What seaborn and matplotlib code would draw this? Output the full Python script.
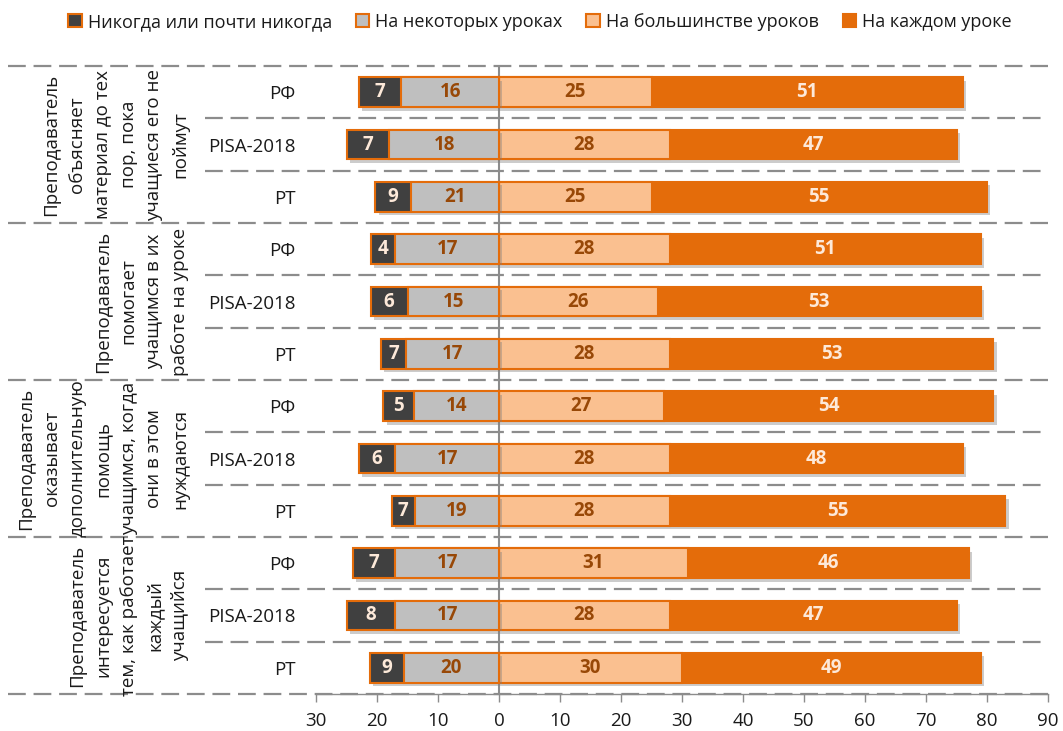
import matplotlib
matplotlib.use('Agg')
import matplotlib.pyplot as plt
import matplotlib.patheffects as pe
from matplotlib.patches import Patch
from matplotlib.ticker import FuncFormatter
import pandas as pd
import seaborn as sns

# data
rows = ['РФ', 'PISA-2018', 'РТ'] * 4
groups = [
    'Преподаватель\nобъясняет\nматериал до тех\nпор, пока\nучащиеся его не\nпоймут',
    'Преподаватель\nпомогает\nучащимся в их\nработе на уроке',
    'Преподаватель\nоказывает\nдополнительную\nпомощь\nучащимся, когда\nони в этом\nнуждаются',
    'Преподаватель\nинтересуется\nтем, как работает\nкаждый\nучащийся',
]
# values printed on the bars
never = [7, 7, 9, 4, 6, 7, 5, 6, 7, 7, 8, 9]
some = [16, 18, 21, 17, 15, 17, 14, 17, 19, 17, 17, 20]
most = [25, 28, 25, 28, 26, 28, 27, 28, 28, 31, 28, 30]
every = [51, 47, 55, 51, 53, 53, 54, 48, 55, 46, 47, 49]
# lengths of the left-hand bars as drawn (the РТ rows are drawn shorter than their labels)
never_bar = [7, 7, 5.8, 4, 6, 4.2, 5, 6, 3.8, 7, 8, 5.6]
some_bar = [16, 18, 14.5, 17, 15, 15.2, 14, 17, 13.8, 17, 17, 15.6]
series_names = ['Никогда или почти никогда', 'На некоторых уроках',
                'На большинстве уроков', 'На каждом уроке']

c_dark = '#404040'
c_gray = '#bfbfbf'
c_light = '#fac090'
c_orange = '#e46c0a'
c_edge = '#e46c0a'
c_brown = '#984807'
c_pale = '#fde9d9'
c_line = '#8c8c8c'
fs = 13.5

df = pd.DataFrame({'row': list(range(len(rows))), 'never': never_bar, 'some': some_bar,
                   'most': most, 'every': every})
df['neg_total'] = -(df['never'] + df['some'])
df['neg_some'] = -df['some']
df['pos_total'] = df['most'] + df['every']

sns.set_style('white')
plt.rcParams['font.family'] = ['Open Sans', 'DejaVu Sans']

fig = plt.figure(figsize=(10.63, 7.31), dpi=100)
ax = fig.add_axes([316 / 1063, 1 - 694 / 731, 732 / 1063, 628 / 731])

bw = 0.57
shadow = [pe.SimplePatchShadow(offset=(2.5, -2.5), shadow_rgbFace='#808080', alpha=0.4), pe.Normal()]

# outer bars (full stacks), then inner segments on top
for col, color, shade in [('pos_total', c_orange, True), ('most', c_light, False),
                          ('neg_total', c_dark, True), ('neg_some', c_gray, False)]:
    n0 = len(ax.patches)
    sns.barplot(data=df, x=col, y='row', orient='h', color=color, width=bw,
                edgecolor=c_edge, linewidth=1.5, saturation=1, ax=ax, zorder=2)
    if shade:
        for p in ax.patches[n0:]:
            p.set_path_effects(shadow)

# value labels
for i in range(len(rows)):
    ax.text(-some_bar[i] - never_bar[i] / 2, i, str(never[i]), ha='center', va='center',
            color=c_pale, fontsize=fs, fontweight='bold', zorder=5)
    ax.text(-some_bar[i] / 2, i, str(some[i]), ha='center', va='center',
            color=c_brown, fontsize=fs, fontweight='bold', zorder=5)
    ax.text(most[i] / 2, i, str(most[i]), ha='center', va='center',
            color=c_brown, fontsize=fs, fontweight='bold', zorder=5)
    ax.text(most[i] + every[i] / 2, i, str(every[i]), ha='center', va='center',
            color=c_pale, fontsize=fs, fontweight='bold', zorder=5)

ax.axvline(0, color=c_line, lw=1.5, zorder=0)

ax.set_xlim(-30, 90)
ax.set_ylim(len(rows) - 0.5, -0.5)
ax.set_xticks(range(-30, 91, 10))
ax.xaxis.set_major_formatter(FuncFormatter(lambda v, _: f'{abs(int(v))}'))
ax.set_yticks(range(len(rows)))
ax.set_yticklabels(rows)
ax.set_xlabel('')
ax.set_ylabel('')
ax.tick_params(axis='y', length=0, pad=14.5, labelsize=fs, labelcolor='#1a1a1a')
ax.tick_params(axis='x', length=6, width=1, color=c_line, direction='out',
               labelsize=fs, labelcolor='#1a1a1a', pad=7)
for s in ['top', 'right', 'left']:
    ax.spines[s].set_visible(False)
ax.spines['bottom'].set_color(c_line)
ax.spines['bottom'].set_linewidth(1)
ax.xaxis.set_ticks_position('bottom')

# dashed separators
tr = ax.get_yaxis_transform()
x_group = (8 - 316) / 732
x_inner = (205 - 316) / 732
for k in range(len(rows) + 1):
    y = k - 0.5
    x0 = x_group if k % 3 == 0 else x_inner
    ax.plot([x0, 1.0], [y, y], transform=tr, clip_on=False, color=c_line,
            lw=1.6, ls=(0, (8, 3.5)), zorder=0)

# group labels
for g, text in enumerate(groups):
    ax.text((189 - 316) / 732, g * 3 + 1, text, transform=tr, rotation=90,
            ha='right', va='center', multialignment='center', fontsize=fs,
            linespacing=1.55, color='#1a1a1a', clip_on=False)

handles = [Patch(facecolor=c, edgecolor=c_edge, linewidth=1.5)
           for c in [c_dark, c_gray, c_light, c_orange]]
fig.legend(handles, series_names, loc='center', bbox_to_anchor=(0.508, 0.97), ncol=4,
           frameon=False, fontsize=13, handlelength=0.75, handleheight=0.75,
           handletextpad=0.35, columnspacing=1.3, labelcolor='#1a1a1a')

fig.savefig('out.png', dpi=100)
